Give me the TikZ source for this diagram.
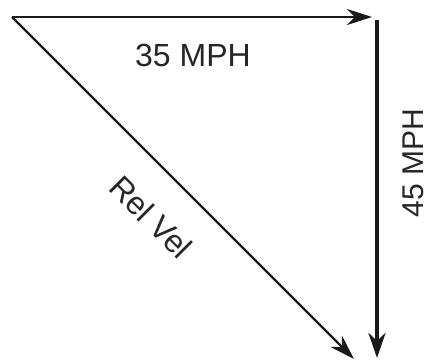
\documentclass[tikz,border=0pt]{standalone}
\usepackage{fontspec}
\setmainfont{Liberation Sans}
\usetikzlibrary{arrows.meta}
\begin{document}
\begin{tikzpicture}[x=1pt,y=1pt,
  vec/.style={draw=black!90, -{Stealth[length=25pt,width=16pt,inset=8pt]}},
  lbl/.style={font=\fontsize{32}{36}\selectfont, text=black!85, inner sep=0pt}]
\useasboundingbox (0,0) rectangle (428,-360);
\coordinate (O) at (12,-17);
\coordinate (A) at (372,-17);
\coordinate (B) at (377,-20);
\coordinate (C) at (377,-358);
\coordinate (D) at (354,-359);
\draw[vec, line width=2pt] (O) -- (A);
\draw[vec, line width=4pt, -{Stealth[length=25pt,width=17pt,inset=8pt]}] (B) -- (C);
\draw[vec, line width=2.4pt] (O) -- (D);
\node[lbl] (t1) at (193,-55) {35 MPH};
\node[lbl, font=\fontsize{30}{34}\selectfont, rotate=90] (t2) at (413,-163) {45 MPH};
\node[lbl, rotate=-45] (t3) at (151,-217) {Rel Vel};
\end{tikzpicture}
\end{document}
